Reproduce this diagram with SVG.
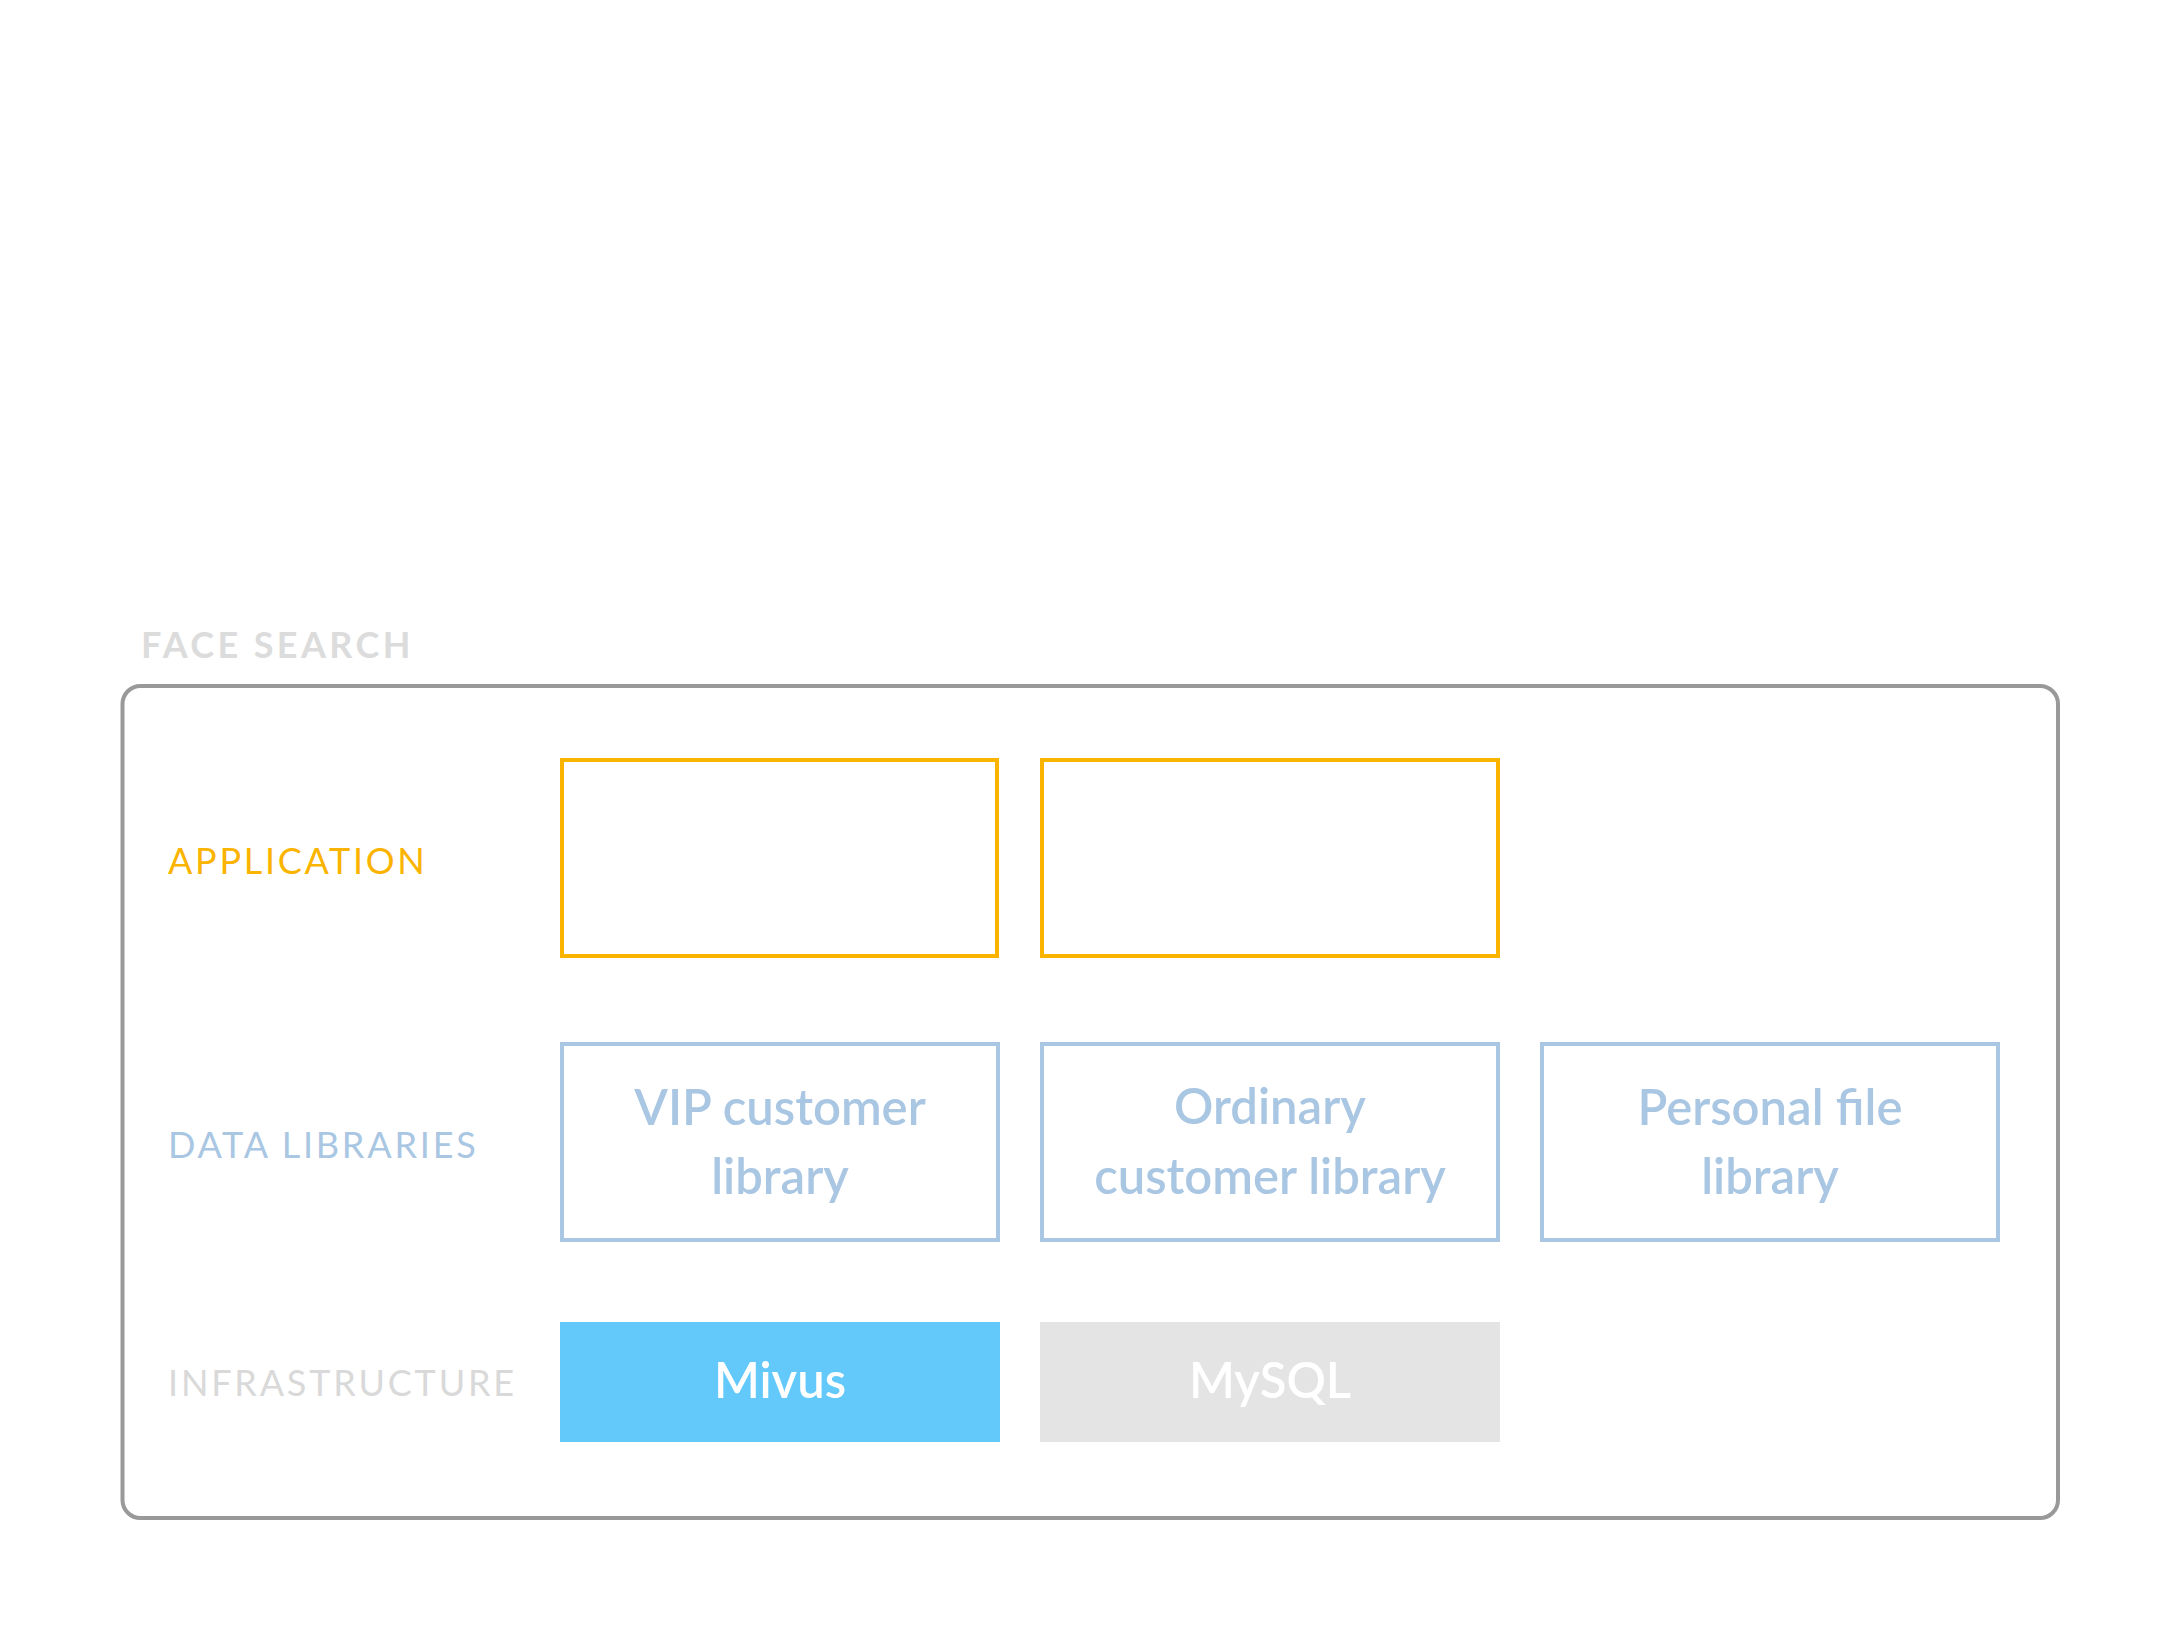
<svg xmlns="http://www.w3.org/2000/svg" width="2180" height="1640" viewBox="0 0 2180 1640">
<style>
.lbl{font-family:"Lato","Liberation Sans",sans-serif;font-size:36px;}
.node{font-family:"Lato","Liberation Sans",sans-serif;font-size:49px;font-weight:600;text-anchor:middle;}
.app{fill:#ffffff;stroke:#fab400;stroke-width:4;}
.lib{fill:#ffffff;stroke:#a9c6e3;stroke-width:4;}
.libt{fill:#a9c6e3;}
</style>
<rect x="0" y="0" width="2180" height="1640" fill="#ffffff"/>
<g id="frame">
<text class="lbl" x="141" y="658" fill="#dcdcdc" font-weight="700" letter-spacing="3.4">FACE SEARCH</text>
<rect x="122.5" y="686" width="1935.5" height="832" rx="18" ry="18" fill="none" stroke="#999999" stroke-width="4"/>
</g>
<g id="layer-labels">
<text class="lbl" x="168" y="874" fill="#fab400" letter-spacing="2.7">APPLICATION</text>
<text class="lbl" x="168" y="1158" fill="#a9c6e3" letter-spacing="2.8">DATA LIBRARIES</text>
<text class="lbl" x="168" y="1396" fill="#d9d9d9" letter-spacing="2.8">INFRASTRUCTURE</text>
</g>
<g id="app-1"><rect class="app" x="562" y="760" width="435" height="196"/></g>
<g id="app-2"><rect class="app" x="1042" y="760" width="456" height="196"/></g>
<g id="vip-library">
<rect class="lib" x="562" y="1044" width="436" height="196"/>
<text class="node libt" x="780" y="1125">VIP customer</text>
<text class="node libt" x="780" y="1194">library</text>
</g>
<g id="ordinary-library">
<rect class="lib" x="1042" y="1044" width="456" height="196"/>
<text class="node libt" x="1270" y="1124">Ordinary</text>
<text class="node libt" x="1270" y="1194">customer library</text>
</g>
<g id="personal-library">
<rect class="lib" x="1542" y="1044" width="456" height="196"/>
<text class="node libt" x="1770" y="1125">Personal file</text>
<text class="node libt" x="1770" y="1194">library</text>
</g>
<g id="mivus">
<rect x="560" y="1322" width="440" height="120" fill="#62c9fa"/>
<text class="node" x="780" y="1398" fill="#ffffff">Mivus</text>
</g>
<g id="mysql">
<rect x="1040" y="1322" width="460" height="120" fill="#e4e4e4"/>
<text class="node" x="1270" y="1398" fill="#ffffff">MySQL</text>
</g>
<g id="connectors"></g>
</svg>
